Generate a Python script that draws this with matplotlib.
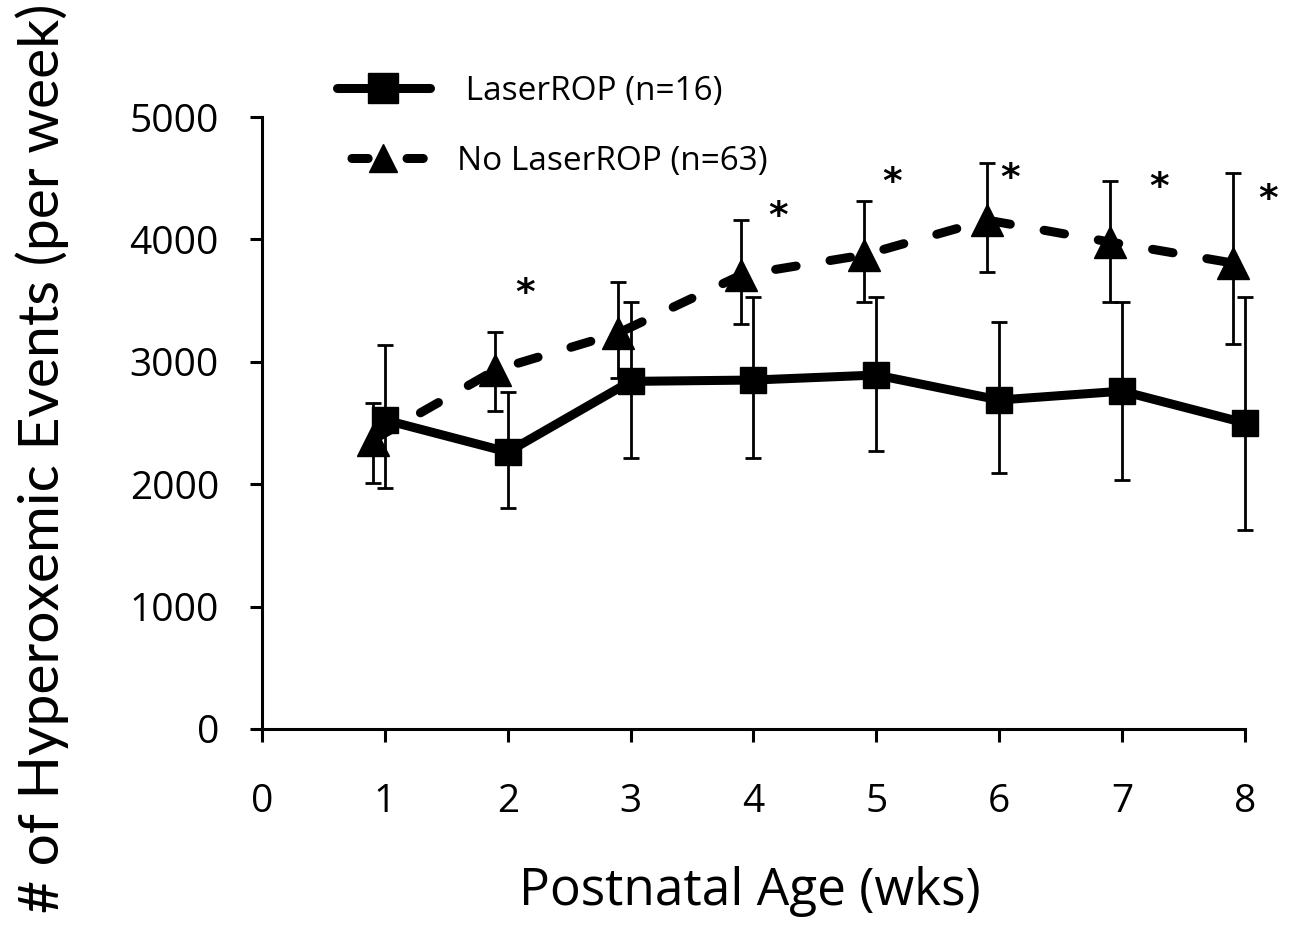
import matplotlib
matplotlib.use("Agg")
import matplotlib.pyplot as plt
from matplotlib import font_manager
from matplotlib.lines import Line2D
import numpy as np

# data
weeks = [1, 2, 3, 4, 5, 6, 7, 8]

laser_mean = [2525, 2263, 2840, 2851, 2892, 2688, 2760, 2500]
laser_hi = [3137, 2753, 3488, 3529, 3529, 3325, 3488, 3529]
laser_lo = [1969, 1806, 2214, 2214, 2271, 2092, 2034, 1626]

nolaser_mean = [2360, 2933, 3235, 3709, 3873, 4158, 3979, 3807]
nolaser_hi = [2663, 3243, 3652, 4158, 4314, 4624, 4477, 4542]
nolaser_lo = [2010, 2598, 2870, 3309, 3488, 3733, 3488, 3145]

# significance marks
star_x = [2.14, 4.2, 5.13, 6.09, 7.3, 8.19]
star_y = [3550, 4180, 4460, 4490, 4420, 4320]

txt_font = "Open Sans"
installed = {f.name for f in font_manager.fontManager.ttflist}
if "Liberation Sans Narrow" in installed:
    ylab_font, ylab_size = "Liberation Sans Narrow", 47
else:
    ylab_font, ylab_size = "Lato", 41

fig = plt.figure(figsize=(12.92, 9.25), dpi=100)
ax = fig.add_axes([0.2028, 0.2119, 0.7608, 0.6616])

x = np.array(weeks, dtype=float)
xt = x - 0.1

lm = np.array(laser_mean)
nm = np.array(nolaser_mean)
laser_err = [lm - np.array(laser_lo), np.array(laser_hi) - lm]
nolaser_err = [nm - np.array(nolaser_lo), np.array(nolaser_hi) - nm]

ax.errorbar(xt, nm, yerr=nolaser_err, fmt="none", ecolor="black",
            elinewidth=2, capsize=5.5, capthick=2, zorder=2)
ax.errorbar(x, lm, yerr=laser_err, fmt="none", ecolor="black",
            elinewidth=2, capsize=5.5, capthick=2, zorder=2)

tri, = ax.plot(xt, nm, color="black", lw=6.5, marker="^", markersize=23,
               dash_capstyle="round", zorder=3)
tri.set_dashes([2.3, 3.8])
sq, = ax.plot(x, lm, color="black", lw=6.5, marker="s", markersize=19,
              solid_capstyle="round", zorder=4)

for a in ax.lines + ax.collections:
    a.set_clip_on(False)

for sx, sy in zip(star_x, star_y):
    ax.text(sx, sy, "*", fontsize=27, fontweight="bold", ha="center",
            va="center", family="DejaVu Sans")

ax.set_xlim(0, 8)
ax.set_ylim(0, 5000)
ax.set_xticks(range(0, 9))
ax.set_yticks(range(0, 5001, 1000))

for s in ["top", "right"]:
    ax.spines[s].set_visible(False)
for s in ["left", "bottom"]:
    ax.spines[s].set_linewidth(2.2)
ax.tick_params(direction="out", length=9, width=2.2, labelsize=28)
ax.tick_params(axis="y", pad=22)
ax.tick_params(axis="x", pad=30)
for lab in ax.get_xticklabels() + ax.get_yticklabels():
    lab.set_family(txt_font)

fig.text(0.5804, 1 - 905 / 925, "Postnatal Age (wks)", fontsize=37,
         family=txt_font, ha="center", va="baseline")
fig.text(0.033, 1 - 458 / 925, "# of Hyperoxemic Events (per week)",
         fontsize=ylab_size, family=ylab_font, rotation=90,
         ha="center", va="center")

# legend proxies
h_sq = Line2D([], [], color="black", lw=6.5, marker="s", markersize=21,
              solid_capstyle="round")
h_tri = Line2D([], [], color="black", lw=6.5, marker="^", markersize=20,
               dash_capstyle="round", linestyle=(4.5, (1.8, 4.3)))
ax.legend([h_sq, h_tri], [" LaserROP (n=16)", "No LaserROP (n=63)"],
          loc="upper left", bbox_to_anchor=(0.0455, 1.118), frameon=False,
          handlelength=2.8, handletextpad=0.8, labelspacing=1.12,
          prop={"family": txt_font, "size": 24})

fig.savefig("out.png", dpi=100)
